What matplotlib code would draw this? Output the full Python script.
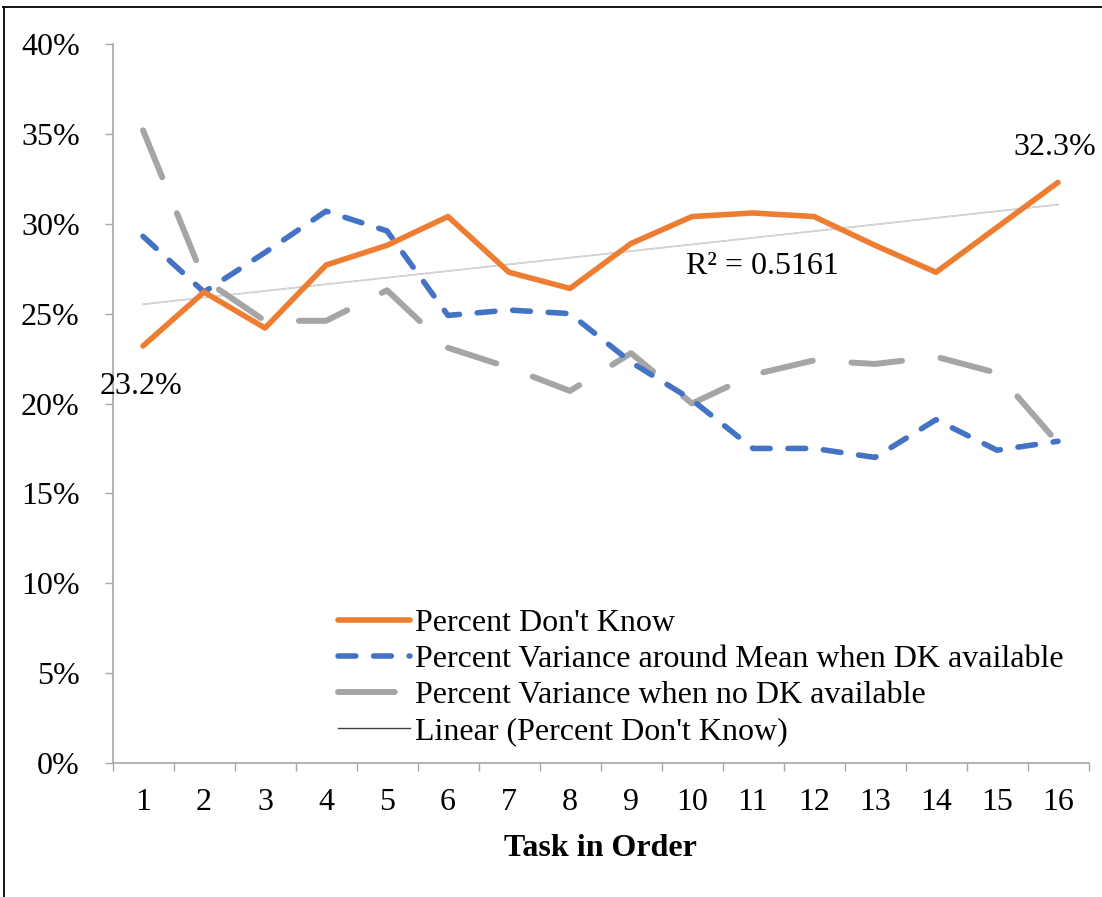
import numpy as np
import matplotlib
matplotlib.use("Agg")
import matplotlib.pyplot as plt
from matplotlib.lines import Line2D
from matplotlib.ticker import FuncFormatter, MultipleLocator

plt.rcParams['font.family'] = ['Liberation Serif', 'DejaVu Serif']

tasks = np.arange(1, 17)
pct_dont_know = [23.2, 26.2, 24.2, 27.7, 28.8, 30.4, 27.3, 26.4,
                 28.9, 30.4, 30.6, 30.4, 28.8, 27.3, 29.8, 32.3]
var_dk_available = [29.3, 26.2, 28.4, 30.7, 29.6, 24.9, 25.2, 25.0,
                    22.3, 20.2, 17.5, 17.5, 17.0, 19.1, 17.4, 17.9]
var_no_dk = [35.2, 26.9, 24.6, 24.6, 26.3, 23.1, 22.0, 20.7,
             22.8, 20.0, 21.6, 22.4, 22.2, 22.6, 21.7, 17.8]
x_labels = [str(t) for t in tasks]

W, H = 1102, 897
FS = 23
fig = plt.figure(figsize=(W / 100, H / 100), dpi=100)
ax = fig.add_axes([112.5 / W, 1 - 763 / H, 976 / W, 719 / H])

orange = '#ed7d31'
blue = '#4472c4'
gray = '#a5a5a5'

h1, = ax.plot(tasks, pct_dont_know, color=orange, lw=4, solid_capstyle='round',
              solid_joinstyle='round', zorder=4)
h2, = ax.plot(tasks, var_dk_available, color=blue, lw=4, dashes=(3.2, 3.2),
              dash_capstyle='round', dash_joinstyle='round', zorder=3)
ax.plot(tasks, var_no_dk, color=gray, lw=4.3, dashes=(8.5, 6.5),
        dash_capstyle='round', dash_joinstyle='round', zorder=2)

# linear trendline on percent don't know
coef = np.polyfit(tasks, pct_dont_know, 1)
trend = np.polyval(coef, tasks)
ax.plot(tasks, trend, color='#bdbdbd', lw=1.2, zorder=1)
ax.plot(tasks, trend, color='white', lw=0.6, dashes=(1.5, 1.5), zorder=1)

ax.set_xlim(0.5, 16.5)
ax.set_ylim(0, 40)
ax.yaxis.set_major_locator(MultipleLocator(5))
ax.yaxis.set_major_formatter(FuncFormatter(lambda v, _: f'{v:.0f}%'))
ax.set_xticks(tasks)
ax.set_xticklabels(x_labels)
ax.set_xticks(np.arange(0.5, 17, 1), minor=True)
ax.tick_params(axis='x', which='major', length=0, pad=18, labelsize=FS)
ax.tick_params(axis='x', which='minor', length=5.5, color='#a6a6a6', width=1)
ax.tick_params(axis='y', length=5.5, color='#a6a6a6', width=1, pad=18, labelsize=FS)

for s in ['top', 'right']:
    ax.spines[s].set_visible(False)
for s in ['left', 'bottom']:
    ax.spines[s].set_color('#a6a6a6')
    ax.spines[s].set_linewidth(1.2)

ax.set_xlabel('Task in Order', fontsize=FS, fontweight='bold', labelpad=12)

ax.annotate('23.2%', xy=(tasks[0], pct_dont_know[0]), xytext=(-1.5, -29),
            textcoords='offset points', ha='center', va='center', fontsize=FS)
ax.annotate('32.3%', xy=(tasks[-1], pct_dont_know[-1]), xytext=(-2, 25),
            textcoords='offset points', ha='center', va='center', fontsize=FS)
ax.text(11.16, 27.6, 'R² = 0.5161', ha='center', va='center', fontsize=FS)

h3 = Line2D([], [], color=gray, lw=4.3, dashes=(9.5, 10), dash_capstyle='round')
h4 = Line2D([], [], color='#404040', lw=1)
labels = ["Percent Don't Know", 'Percent Variance around Mean when DK available',
          'Percent Variance when no DK available', "Linear (Percent Don't Know)"]
ax.legend([h1, h2, h3, h4], labels, loc='upper left', bbox_to_anchor=(0.231, 0.214),
          frameon=False, fontsize=FS, handlelength=2.25, handletextpad=0.15,
          labelspacing=0.2, borderaxespad=0, borderpad=0)

# chart frame (partially cropped in the original)
fig.add_artist(Line2D([3.5 / W, 3.5 / W], [0, 1 - 7 / H], color='black', lw=1.3,
                      transform=fig.transFigure))
fig.add_artist(Line2D([3 / W, 1], [1 - 7.5 / H, 1 - 7.5 / H], color='black', lw=1.3,
                      transform=fig.transFigure))

fig.savefig('out.png', dpi=100)
